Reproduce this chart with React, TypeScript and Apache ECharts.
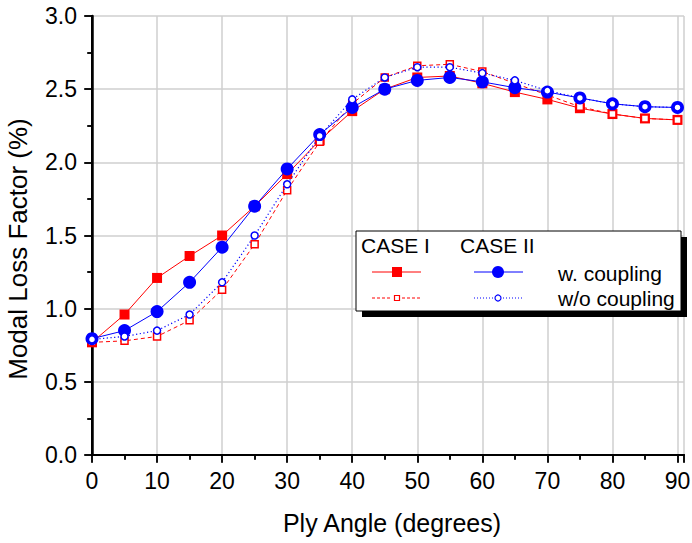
import React, { useEffect, useRef } from "react";
import * as echarts from "echarts";

const angles = [0, 5, 10, 15, 20, 25, 30, 35, 40, 45, 50, 55, 60, 65, 70, 75, 80, 85, 90];
const case1With = [0.77, 0.96, 1.21, 1.36, 1.50, 1.70, 1.92, 2.15, 2.35, 2.50, 2.58, 2.59, 2.54, 2.48, 2.43, 2.37, 2.33, 2.30, 2.29];
const case1Without = [0.77, 0.78, 0.81, 0.92, 1.13, 1.44, 1.81, 2.14, 2.40, 2.58, 2.66, 2.67, 2.62, 2.54, 2.46, 2.38, 2.33, 2.30, 2.29];
const case2With = [0.795, 0.85, 0.98, 1.18, 1.42, 1.70, 1.955, 2.19, 2.375, 2.50, 2.56, 2.58, 2.55, 2.51, 2.48, 2.44, 2.40, 2.38, 2.375];
const case2Without = [0.79, 0.81, 0.85, 0.96, 1.18, 1.50, 1.85, 2.18, 2.43, 2.58, 2.65, 2.65, 2.61, 2.56, 2.49, 2.44, 2.40, 2.38, 2.375];

const caseLabels = ["CASE I", "CASE II"];
const rowLabels = ["w. coupling", "w/o coupling"];

const RED = "#ff0000";
const BLUE = "#0000ff";
const FONT = "Liberation Sans, Arial, Helvetica, sans-serif";

const pairs = (vals: number[]) => angles.map((a, i) => [a, vals[i]]);

export default function App() {
  const ref = useRef<HTMLDivElement>(null);
  useEffect(() => {
    document.body.style.margin = "0";
    const chart = echarts.init(ref.current!, null, { renderer: "svg" });

    const axisLine = { show: true, lineStyle: { color: "#000", width: 2 } };
    const splitLine = { show: true, lineStyle: { color: "#cfcfcf", width: 1.5 } };

    const legendX = 356, legendY = 231, legendW = 325, legendH = 80;
    const lf = `21px ${FONT}`;
    const legend: any[] = [
      { type: "rect", shape: { x: legendX + 6, y: legendY + 6, width: legendW, height: legendH }, style: { fill: "#000" }, z: 100 },
      { type: "rect", shape: { x: legendX, y: legendY, width: legendW, height: legendH }, style: { fill: "#fff", stroke: "#000", lineWidth: 1 }, z: 101 },
      { type: "text", x: 361, y: 245, style: { text: caseLabels[0], font: lf, fill: "#000", verticalAlign: "middle", textVerticalAlign: "middle" }, z: 102 },
      { type: "text", x: 460, y: 245, style: { text: caseLabels[1], font: lf, fill: "#000", verticalAlign: "middle", textVerticalAlign: "middle" }, z: 102 },
      { type: "text", x: 558, y: 273, style: { text: rowLabels[0], font: lf, fill: "#000", verticalAlign: "middle", textVerticalAlign: "middle" }, z: 102 },
      { type: "text", x: 558, y: 298, style: { text: rowLabels[1], font: lf, fill: "#000", verticalAlign: "middle", textVerticalAlign: "middle" }, z: 102 },
      // row 1 samples
      { type: "line", shape: { x1: 372, y1: 272, x2: 421, y2: 272 }, style: { stroke: RED, lineWidth: 1 }, z: 102 },
      { type: "rect", shape: { x: 392, y: 267, width: 10, height: 10 }, style: { fill: RED }, z: 103 },
      { type: "line", shape: { x1: 474, y1: 272, x2: 523, y2: 272 }, style: { stroke: BLUE, lineWidth: 1 }, z: 102 },
      { type: "circle", shape: { cx: 498, cy: 272, r: 6 }, style: { fill: BLUE }, z: 103 },
      // row 2 samples
      { type: "line", shape: { x1: 372, y1: 298, x2: 392, y2: 298 }, style: { stroke: RED, lineWidth: 1, lineDash: [3, 2] }, z: 102 },
      { type: "line", shape: { x1: 402, y1: 298, x2: 421, y2: 298 }, style: { stroke: RED, lineWidth: 1, lineDash: [3, 2] }, z: 102 },
      { type: "rect", shape: { x: 394.5, y: 295.5, width: 5, height: 5 }, style: { fill: "#fff", stroke: RED, lineWidth: 1.2 }, z: 103 },
      { type: "line", shape: { x1: 474, y1: 298, x2: 493, y2: 298 }, style: { stroke: BLUE, lineWidth: 1, lineDash: [1, 2] }, z: 102 },
      { type: "line", shape: { x1: 503, y1: 298, x2: 523, y2: 298 }, style: { stroke: BLUE, lineWidth: 1, lineDash: [1, 2] }, z: 102 },
      { type: "circle", shape: { cx: 498, cy: 298, r: 3 }, style: { fill: "#fff", stroke: BLUE, lineWidth: 1.2 }, z: 103 },
    ];

    chart.setOption({
      animation: false,
      backgroundColor: "#fff",
      grid: { left: 92, top: 16, right: 8, bottom: 88, containLabel: false, outerBoundsMode: "none" },
      xAxis: [
        {
          type: "value", min: 0, max: 91, interval: 10, position: "bottom",
          name: "Ply Angle (degrees)", nameLocation: "middle", nameGap: 55,
          nameTextStyle: { fontFamily: FONT, fontSize: 25, color: "#000", padding: [0, 0, 0, 8] },
          axisLine,
          axisTick: { show: true, inside: false, length: 8, lineStyle: { color: "#000", width: 1.5 } },
          minorTick: { show: true, splitNumber: 2, length: 5, lineStyle: { color: "#000", width: 1.5 } },
          axisLabel: { show: true, showMaxLabel: false, margin: 14, fontFamily: FONT, fontSize: 23, color: "#000" },
          splitLine,
        },
        {
          type: "value", min: 0, max: 91, interval: 10, position: "top",
          axisLine,
          axisTick: { show: true, inside: true, length: 7, lineStyle: { color: "#000", width: 1.5 } },
          minorTick: { show: true, splitNumber: 2, length: 4, lineStyle: { color: "#000", width: 1.5 } },
          axisLabel: { show: false },
          splitLine: { show: false },
        },
      ],
      yAxis: [
        {
          type: "value", min: 0, max: 3, interval: 0.5, position: "left",
          name: "Modal Loss Factor (%)", nameLocation: "middle", nameGap: 61,
          nameTextStyle: { fontFamily: FONT, fontSize: 26, color: "#000", padding: [0, 27, 0, 0] },
          axisLine,
          axisTick: { show: true, inside: false, length: 8, lineStyle: { color: "#000", width: 1.5 } },
          minorTick: { show: true, splitNumber: 2, length: 5, lineStyle: { color: "#000", width: 1.5 } },
          axisLabel: { show: true, margin: 15, fontFamily: FONT, fontSize: 23, color: "#000", formatter: (v: number) => v.toFixed(1) },
          splitLine,
        },
        {
          type: "value", min: 0, max: 3, interval: 0.5, position: "right",
          axisLine: { show: true, lineStyle: { color: "#000", width: 2.5 } },
          axisTick: { show: true, inside: true, length: 7, lineStyle: { color: "#000", width: 1.5 } },
          minorTick: { show: true, splitNumber: 2, length: 4, lineStyle: { color: "#000", width: 1.5 } },
          axisLabel: { show: false },
          splitLine: { show: false },
        },
      ],
      series: [
        {
          name: "CASE I w. coupling", type: "line", data: pairs(case1With),
          symbol: "rect", symbolSize: 10,
          itemStyle: { color: RED },
          lineStyle: { color: RED, width: 1 },
          z: 2,
        },
        {
          name: "CASE I w/o coupling", type: "line", data: pairs(case1Without),
          symbol: "rect", symbolSize: 7,
          itemStyle: { color: "#fff", borderColor: RED, borderWidth: 1.5 },
          lineStyle: { color: RED, width: 1, type: [4, 3] },
          z: 3,
        },
        {
          name: "CASE II w. coupling", type: "line", data: pairs(case2With),
          symbol: "circle", symbolSize: 13,
          itemStyle: { color: BLUE },
          lineStyle: { color: BLUE, width: 1 },
          z: 4,
        },
        {
          name: "CASE II w/o coupling", type: "line", data: pairs(case2Without),
          symbol: "circle", symbolSize: 7,
          itemStyle: { color: "#fff", borderColor: BLUE, borderWidth: 1.5 },
          lineStyle: { color: BLUE, width: 1.2, type: [1.2, 2.5] },
          z: 5,
        },
      ],
      graphic: legend,
    });
    return () => chart.dispose();
  }, []);
  return <div ref={ref} style={{ position: "absolute", left: 0, top: 0, width: 692, height: 543 }} />;
}
